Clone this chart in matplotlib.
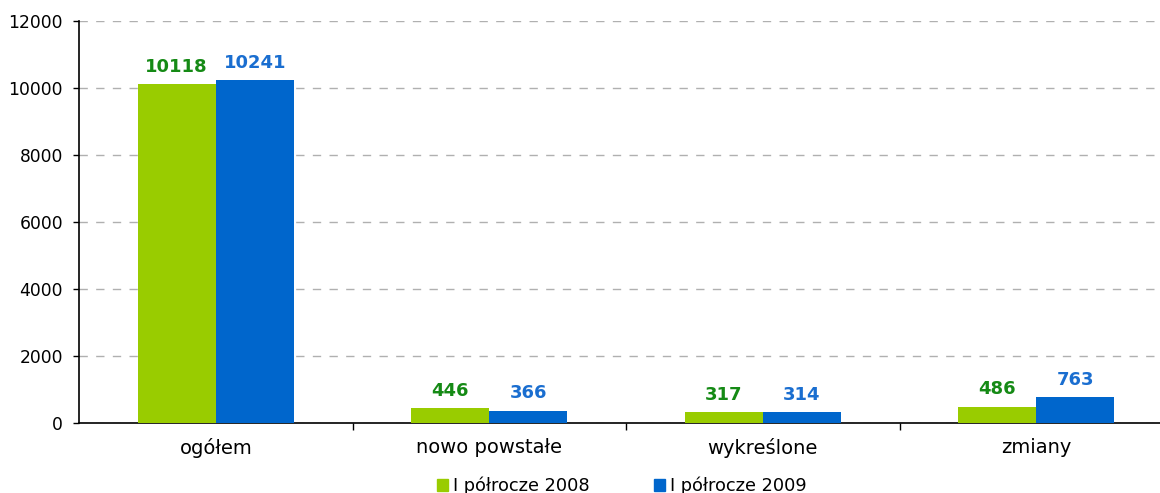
import numpy as np
import matplotlib.pyplot as plt
from matplotlib.patches import Patch

plt.rcParams['font.family'] = ['DejaVu Sans']

categories = ['ogółem', 'nowo powstałe', 'wykreślone', 'zmiany']
h2008 = [10118, 446, 317, 486]
h2009 = [10241, 366, 314, 763]
series_names = ['I półrocze 2008', 'I półrocze 2009']

green = '#99CC00'
blue = '#0066CC'
green_txt = '#158A15'
blue_txt = '#1A6ED0'

fig = plt.figure(figsize=(11.6, 4.93), dpi=100)
ax = fig.add_axes([79/1160, 1 - 423/493, (1173 - 79)/1160, (423 - 21)/493])

x = np.arange(len(categories))
w = 0.286
b1 = ax.bar(x - w/2, h2008, w, color=green, zorder=3)
b2 = ax.bar(x + w/2, h2009, w, color=blue, zorder=3)

for bars, vals, c in [(b1, h2008, green_txt), (b2, h2009, blue_txt)]:
    for r, v in zip(bars, vals):
        ax.annotate(str(v), (r.get_x() + r.get_width()/2, v),
                    xytext=(0, 6), textcoords='offset points',
                    ha='center', va='bottom', fontsize=13, fontweight='bold', color=c)

ax.set_xlim(-0.5, len(categories) - 0.5)
ax.set_ylim(0, 12000)
ax.set_yticks(np.arange(0, 12001, 2000))
ax.yaxis.grid(True, linestyle=(0, (6, 6)), color='#b0b0b0', linewidth=1, zorder=0)
ax.tick_params(axis='y', labelsize=12.3, length=4.5, width=1, direction='out', pad=7)

ax.set_xticks(x)
ax.set_xticklabels(categories, fontsize=14)
ax.tick_params(axis='x', length=0, pad=11)
ax.set_xticks(np.arange(0.5, len(categories) - 0.5, 1), minor=True)
ax.tick_params(axis='x', which='minor', length=5, width=1, direction='out')

for s in ['top', 'right']:
    ax.spines[s].set_visible(False)
ax.spines['left'].set_linewidth(1.2)
ax.spines['bottom'].set_linewidth(1.2)

handles = [Patch(color=green), Patch(color=blue)]
fig.legend(handles, series_names, loc='center', bbox_to_anchor=(622/1160, 1 - 486/493),
           ncol=2, frameon=False, fontsize=12.8, handlelength=0.6, handleheight=0.6,
           handletextpad=0.3, columnspacing=3.6)

fig.savefig('out.png', dpi=100)
